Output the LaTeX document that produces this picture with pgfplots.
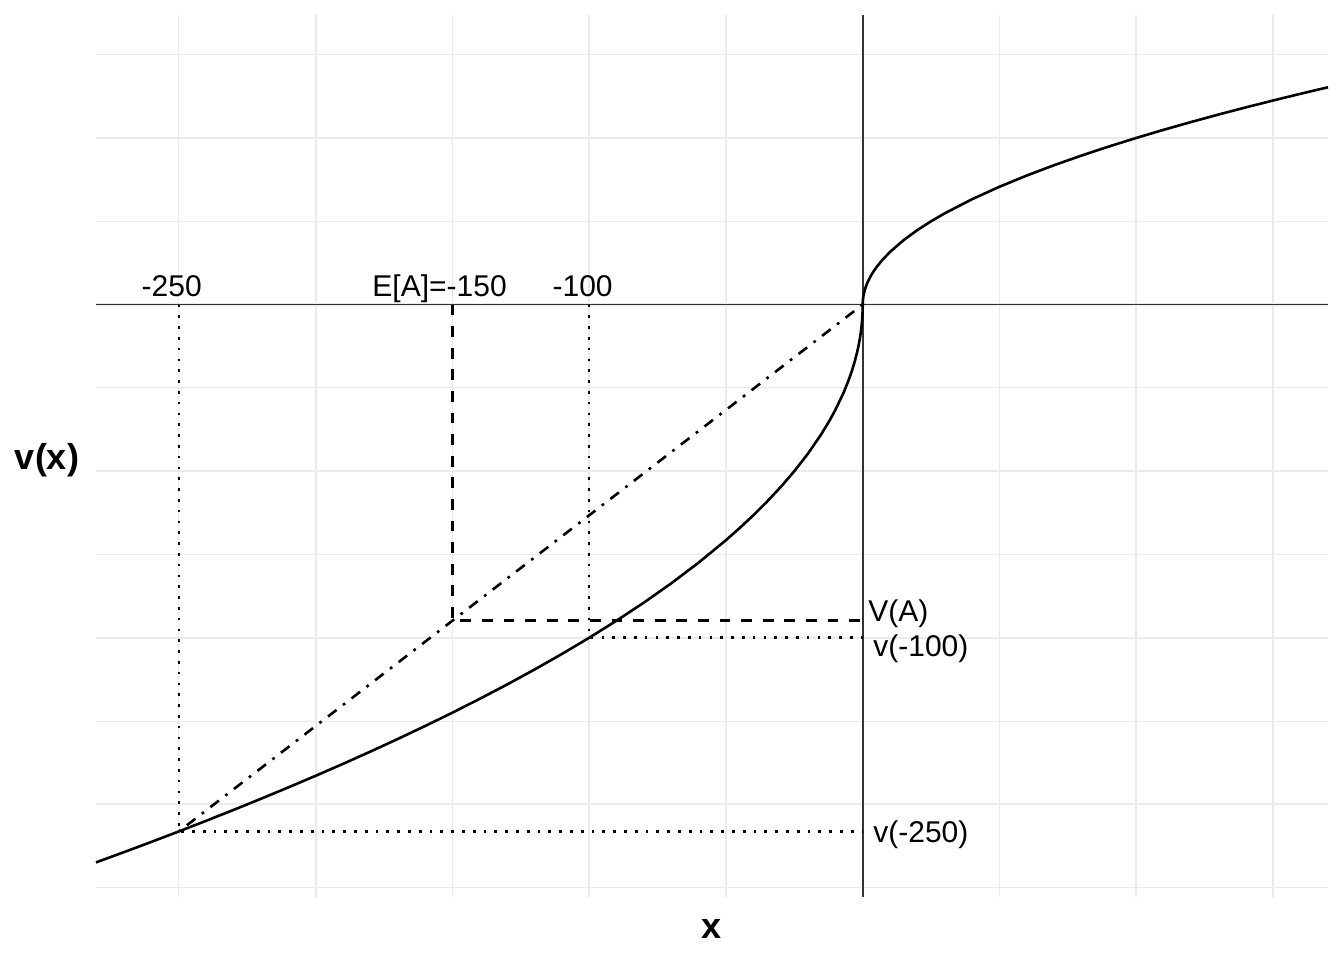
\documentclass[border=0pt]{standalone}
\usepackage{pgfplots}
\pgfplotsset{compat=1.18}
\usepackage{fontspec}
\setmainfont{Liberation Sans}
\definecolor{gridc}{HTML}{EBEBEB}
\definecolor{axc}{HTML}{333333}
\begin{document}
\begin{tikzpicture}
\useasboundingbox (-48pt,-31.5pt) rectangle (624pt,448.5pt);
\begin{axis}[
  at={(0pt,0pt)}, anchor=south west,
  scale only axis, width=616pt, height=441pt,
  xmin=-280.3, xmax=170.1, ymin=-35.56, ymax=17.38,
  xtick={-200,-100,0,100}, minor xtick={-250,-150,-50,50,150},
  ytick={-30,-20,-10,0,10}, minor ytick={-35,-25,-15,-5,5,15},
  xticklabels={}, yticklabels={},
  major tick length=0pt, minor tick length=0pt,
  tick style={draw=none},
  axis line style={draw=none},
  grid=both,
  major grid style={gridc, line width=1.1pt},
  minor grid style={gridc, line width=0.55pt},
  clip=false,
]
% reference lines
\addplot[axc, line width=0.9pt] coordinates {(-280.3,0) (170.1,0)};
\addplot[axc, line width=0.9pt] coordinates {(0,-35.56) (0,17.38)};
% dotted guides
\addplot[black, line width=1.3pt, dash pattern=on 1.35pt off 4.05pt] coordinates {(-250,0) (-250,-31.623) (0,-31.623)};
\addplot[black, line width=1.3pt, dash pattern=on 1.35pt off 4.05pt] coordinates {(-100,0) (-100,-20) (0,-20)};
% dashed guide
\addplot[black, line width=1.3pt, dash pattern=on 5.4pt off 5.4pt] coordinates {(-150,0) (-150,-18.974) (0,-18.974)};
% dash-dot chord
\addplot[black, line width=1.3pt, dash pattern=on 1.35pt off 4.05pt on 5.4pt off 4.05pt] coordinates {(0,0) (-250,-31.623)};
% value function
\addplot[black, line width=1.3pt, line join=round] coordinates {
(-280.3,-33.484) (-270,-32.863) (-260,-32.249) (-250,-31.623) (-240,-30.984)
(-230,-30.332) (-220,-29.665) (-210,-28.983) (-200,-28.284) (-190,-27.568)
(-180,-26.833) (-170,-26.077) (-160,-25.298) (-150,-24.495) (-140,-23.664)
(-130,-22.804) (-120,-21.909) (-110,-20.976) (-100,-20.000) (-90,-18.974)
(-80,-17.889) (-70,-16.733) (-60,-15.492) (-50,-14.142) (-45,-13.416)
(-40,-12.649) (-35,-11.832) (-30,-10.954) (-25,-10.000) (-20,-8.944)
(-15,-7.746) (-12,-6.928) (-10,-6.325) (-7,-5.292) (-5,-4.472)
(-4,-4.000) (-3,-3.464) (-2,-2.828) (-1.5,-2.449) (-1,-2.000)
(-0.7,-1.673) (-0.4,-1.265) (-0.2,-0.894) (-0.1,-0.632) (-0.02,-0.283)
(0,0)
(0.02,0.141) (0.1,0.316) (0.2,0.447) (0.4,0.632) (0.7,0.837)
(1,1.000) (1.5,1.225) (2,1.414) (3,1.732) (4,2.000) (5,2.236)
(7,2.646) (10,3.162) (15,3.873) (20,4.472) (25,5.000) (30,5.477)
(40,6.325) (50,7.071) (60,7.746) (70,8.367) (80,8.944) (90,9.487)
(100,10.000) (110,10.488) (120,10.954) (130,11.402) (140,11.832)
(150,12.247) (160,12.649) (170.1,13.042)
};
% annotations
\node[font=\fontsize{15}{18}\selectfont, inner sep=0pt, anchor=base] at (axis cs:-252.6,0.47) {-250};
\node[font=\fontsize{15}{18}\selectfont, inner sep=0pt, anchor=base] at (axis cs:-154.7,0.47) {E[A]=-150};
\node[font=\fontsize{15}{18}\selectfont, inner sep=0pt, anchor=base] at (axis cs:-102.4,0.47) {-100};
\node[font=\fontsize{15}{18}\selectfont, inner sep=0pt, anchor=west] at (axis cs:1.9,-18.58) {V(A)};
\node[font=\fontsize{15}{18}\selectfont, inner sep=0pt, anchor=west] at (axis cs:3.75,-20.68) {v(-100)};
\node[font=\fontsize{15}{18}\selectfont, inner sep=0pt, anchor=west] at (axis cs:3.75,-31.84) {v(-250)};
% axis titles
\node[font=\fontsize{18}{22}\selectfont\bfseries, inner sep=0pt] at (rel axis cs:0.5,-0.0365) {x};
\node[font=\fontsize{18}{22}\selectfont\bfseries, inner sep=0pt] at ([xshift=-24.5pt]rel axis cs:0,0.495) {v(x)};
\end{axis}
\end{tikzpicture}
\end{document}
